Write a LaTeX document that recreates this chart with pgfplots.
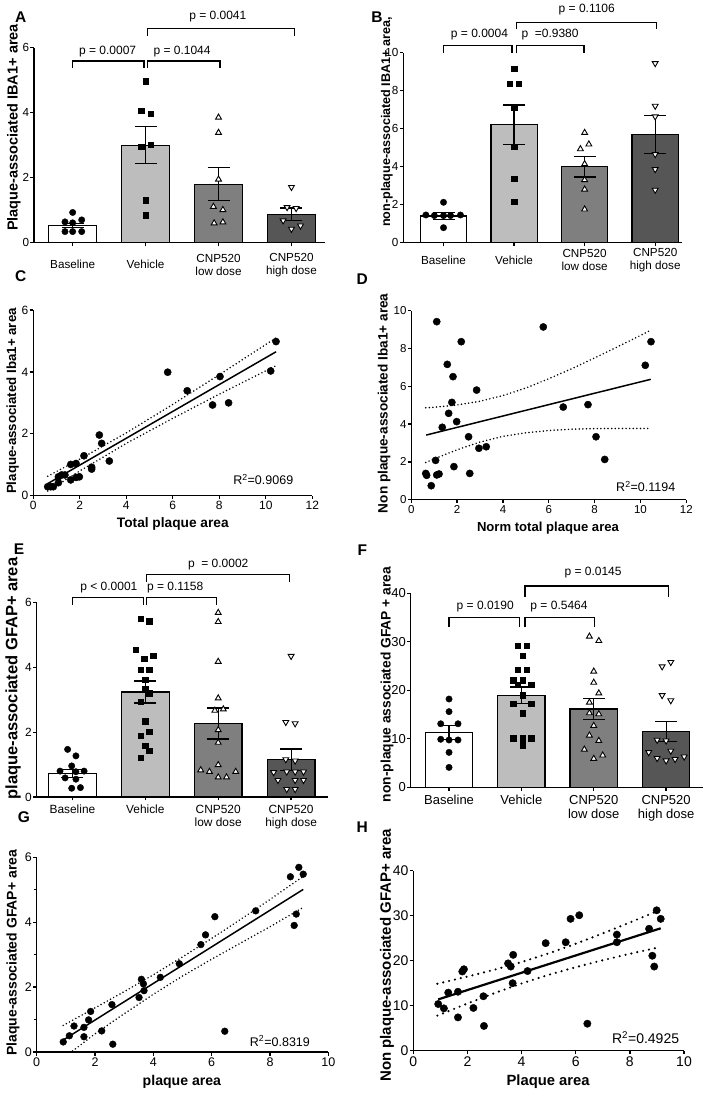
\documentclass[border=0pt]{standalone}
\usepackage{fontspec}
\setmainfont{Liberation Sans}
\usepackage{pgfplots}
\pgfplotsset{compat=1.18}
\definecolor{barV}{HTML}{BDBDBD}
\definecolor{barL}{HTML}{7F7F7F}
\definecolor{barH}{HTML}{565656}
\tikzset{
  brk/.style={line width=1.2pt, black},
  pv/.style={font=\fontsize{12}{14}\selectfont},
  r2/.style={font=\fontsize{12.5}{14}\selectfont},
}
\pgfplotsset{
  prism/.style={
    scale only axis, clip=false, anchor=south west,
    axis lines*=left,
    axis line style={line width=1.3pt, -},
    every tick/.style={line width=1.3pt, black},
    tick align=outside,
    major tick length=3.5pt,
    minor tick length=2.5pt,
    /pgf/number format/assume math mode=true,
    xlabel style={font=\bfseries\fontsize{13.7}{16}\selectfont},
    ylabel style={font=\bfseries\fontsize{13.7}{16}\selectfont},
    tick label style={font=\fontsize{11.7}{13}\selectfont, black},
    yticklabel style={inner sep=1.2pt},
    xticklabel style={inner sep=2pt},
  },
  barchart/.style={prism, xtick={0,1,2,3},
    xticklabels={Baseline,Vehicle,{CNP520\\low dose},{CNP520\\high dose}},
    x tick label style={align=center}, ymin=0},
  barst/.style={ybar, bar width=0.655, bar shift=0pt, draw=black, line width=1.2pt,
    error bars/y dir=both, error bars/y explicit,
    error bars/error bar style={line width=1.2pt, black},
    error bars/error mark options={rotate=90, mark size=11pt, line width=1.2pt, black}},
  circ/.style={only marks, mark=*, mark size=3.2pt, black},
  sq/.style={only marks, mark=square*, mark size=2.7pt, black},
  tri/.style={only marks, mark=triangle*, mark size=3.4pt, mark options={fill=white, draw=black, line width=0.9pt}},
  itri/.style={only marks, mark=triangle*, mark size=3.4pt, mark options={rotate=180, fill=white, draw=black, line width=0.9pt}},
  dots/.style={line width=1.7pt, dash pattern=on 0pt off 3.6pt, line cap=round, black},
  reg/.style={line width=1.5pt, black},
}
\newcommand{\plet}[3]{\node[font=\bfseries\fontsize{15.5}{18}\selectfont] at (#1pt,#2pt) {#3};}
\begin{document}
\begin{tikzpicture}
\path[use as bounding box] (0,0) rectangle (709pt,1095pt);
% ---------------- A ----------------
\begin{axis}[barchart, at={(34pt,852.7pt)}, width=291pt, height=194.6pt,
  xmin=-0.53, xmax=3.46, ymax=6, ytick={0,2,4,6},
  ylabel={Plaque-associated IBA1+ area},
  ylabel style={at={(axis description cs:-0.069,0.59)}, anchor=center, font=\bfseries\fontsize{14.5}{17}\selectfont},
  x tick label style={anchor=center, yshift=-19pt}]
\addplot[fill=white, barst] coordinates {(0,0.52) +- (0,0.07)};
\addplot[fill=barV, barst] coordinates {(1,2.99) +- (0,0.57)};
\addplot[fill=barL, barst] coordinates {(2,1.79) +- (0,0.51)};
\addplot[fill=barH, barst] coordinates {(3,0.86) +- (0,0.20)};
\addplot[circ] coordinates {(0,0.92) (-0.105,0.63) (0,0.60) (0.124,0.69) (-0.105,0.33) (0,0.33) (0.124,0.33)};
\addplot[sq] coordinates {(1,4.97) (0.94,4.05) (1.07,3.97) (0.94,2.95) (1.07,3.0) (1,1.30) (1,0.84)};
\addplot[tri] coordinates {(2,3.85) (2,3.38) (2,1.94) (1.93,1.10) (2.06,1.0) (1.94,0.59) (2.06,0.62)};
\addplot[itri] coordinates {(3,1.70) (2.94,1.08) (3.064,1.05) (2.886,0.67) (3,0.41) (3.124,0.51)};
\draw[brk] (axis cs:0,5.36) |- (axis cs:0.978,5.59) -- (axis cs:0.978,5.36);
\draw[brk] (axis cs:1.023,5.36) |- (axis cs:2.02,5.59) -- (axis cs:2.02,5.36);
\draw[brk] (axis cs:1.023,6.36) |- (axis cs:3.04,6.60) -- (axis cs:3.04,6.36);
\node[pv] at (axis cs:0.48,5.88) {p = 0.0007};
\node[pv] at (axis cs:1.50,5.88) {p = 0.1044};
\node[pv] at (axis cs:1.99,6.96) {p = 0.0041};
\end{axis}
% ---------------- B ----------------
\begin{axis}[barchart, at={(403.3pt,852.7pt)}, width=278.7pt, height=189.6pt,
  xmin=-0.57, xmax=3.38, ymax=10, ytick={0,2,...,10},
  ylabel={non-plaque-associated IBA1+ area,},
  ylabel style={at={(axis description cs:-0.059,0.635)}, anchor=center, font=\bfseries\fontsize{12.6}{15}\selectfont},
  x tick label style={anchor=center, yshift=-14.5pt}]
\addplot[fill=white, barst] coordinates {(0,1.39) +- (0,0.17)};
\addplot[fill=barV, barst] coordinates {(1,6.20) +- (0,1.04)};
\addplot[fill=barL, barst] coordinates {(2,3.99) +- (0,0.55)};
\addplot[fill=barH, barst] coordinates {(3,5.68) +- (0,1.00)};
\addplot[circ] coordinates {(0,2.11) (-0.25,1.44) (-0.13,1.41) (0,1.41) (0.10,1.41) (0.24,1.44) (0,0.77)};
\addplot[sq] coordinates {(1,9.14) (0.94,8.38) (1.066,8.38) (1,7.12) (1,5.03) (1,3.34) (1,2.13)};
\addplot[tri] coordinates {(2,5.78) (1.94,4.92) (2.06,5.17) (2,4.13) (2,3.29) (2,2.79) (2,1.74)};
\addplot[itri] coordinates {(3,9.44) (3,7.19) (3,6.63) (3,4.64) (3,3.85) (3,2.76)};
\draw[brk] (axis cs:0,10.0) |- (axis cs:0.97,10.37) -- (axis cs:0.97,10.0);
\draw[brk] (axis cs:1.03,10.0) |- (axis cs:1.99,10.37) -- (axis cs:1.99,10.0);
\draw[brk] (axis cs:1.03,11.23) |- (axis cs:3.02,11.6) -- (axis cs:3.02,11.23);
\node[pv] at (axis cs:0.51,10.97) {p = 0.0004};
\node[pv] at (axis cs:1.51,10.97) {p \ =0.9380};
\node[pv] at (axis cs:2.03,12.25) {p = 0.1106};
\end{axis}
% ---------------- C ----------------
\begin{axis}[prism, at={(33.3pt,599.3pt)}, width=279pt, height=185.7pt,
  xmin=0, xmax=12, ymin=0, ymax=6, xtick={0,2,...,12}, ytick={0,2,4,6},
  tick label style={font=\fontsize{12}{14}\selectfont},
  xlabel={Total plaque area}, ylabel={Plaque-associated Iba1+ area},
  xlabel style={at={(axis description cs:0.5,-0.152)}, anchor=center},
  ylabel style={at={(axis description cs:-0.074,0.51)}, anchor=center, font=\bfseries\fontsize{13.3}{15}\selectfont}]
\addplot[dots] coordinates {(0.62,0.63) (2,1.18) (4,2.03) (6,2.95) (8,3.91) (10.44,5.10)};
\addplot[dots] coordinates {(0.62,0.15) (2,0.80) (4,1.69) (6,2.50) (8,3.28) (10.44,4.20)};
\addplot[reg] coordinates {(0.62,0.39) (10.44,4.65)};
\addplot[circ, mark size=3.6pt] coordinates {(0.62,0.29) (0.75,0.29) (0.86,0.29) (1.08,0.42) (1.08,0.61) (1.22,0.67) (1.36,0.67) (1.61,1.01) (1.84,1.04) (1.61,0.51) (1.84,0.59) (1.98,0.61) (2.18,1.29) (2.51,0.86) (2.51,0.92) (2.84,1.96) (2.94,1.69) (3.27,1.12) (5.78,3.99) (6.62,3.39) (7.71,2.93) (8.03,3.85) (8.40,3.0) (10.21,4.03) (10.44,4.98)};
\node[r2] at (axis cs:9.89,0.53) {R\textsuperscript{2}=0.9069};
\end{axis}
% ---------------- D ----------------
\begin{axis}[prism, at={(411.3pt,595.3pt)}, width=275pt, height=189pt,
  xmin=0, xmax=12, ymin=0, ymax=10, xtick={0,2,...,12}, ytick={0,2,...,10},
  tick label style={font=\fontsize{11.5}{13}\selectfont},
  xlabel={Norm total plaque area}, ylabel={Non plaque-associated Iba1+ area},
  xlabel style={at={(axis description cs:0.497,-0.15)}, anchor=center, font=\bfseries\fontsize{13.1}{15}\selectfont},
  ylabel style={at={(axis description cs:-0.099,0.51)}, anchor=center, font=\bfseries\fontsize{13.6}{15}\selectfont}]
\addplot[dots] coordinates {(0.63,4.86) (1,4.89) (2,5.01) (3,5.21) (4,5.51) (5,5.91) (6,6.40) (7,6.93) (8,7.50) (9,8.09) (10,8.69) (10.45,8.97)};
\addplot[dots] coordinates {(0.63,1.97) (1,2.16) (2,2.64) (3,3.05) (4,3.35) (5,3.54) (6,3.66) (7,3.73) (8,3.76) (9,3.77) (10,3.77) (10.45,3.77)};
\addplot[reg] coordinates {(0.65,3.42) (10.45,6.37)};
\addplot[circ, mark size=3.6pt] coordinates {(0.63,1.39) (0.67,1.29) (0.87,0.74) (1.06,2.08) (1.11,1.31) (1.21,1.36) (1.11,9.42) (1.35,3.83) (1.57,7.16) (1.63,4.57) (1.82,6.51) (1.77,5.15) (1.86,1.75) (1.98,4.13) (2.18,8.36) (2.50,3.33) (2.55,1.39) (2.85,5.80) (2.95,2.72) (3.27,2.80) (5.76,9.14) (6.63,4.90) (7.71,5.03) (8.06,3.33) (8.44,2.13) (10.21,7.11) (10.46,8.36)};
\node[r2] at (axis cs:10.23,0.69) {R\textsuperscript{2}=0.1194};
\end{axis}
% ---------------- E ----------------
\begin{axis}[barchart, at={(36.7pt,298pt)}, width=291.6pt, height=194.3pt,
  xmin=-0.49, xmax=3.51, ymax=6, ytick={0,2,4,6},
  tick label style={font=\fontsize{11.9}{13.5}\selectfont},
  ylabel={plaque-associated GFAP+ area},
  ylabel style={at={(axis description cs:-0.081,0.61)}, anchor=center, font=\bfseries\fontsize{16.5}{19}\selectfont},
  x tick label style={anchor=north, yshift=-2pt}]
\addplot[fill=white, barst] coordinates {(0,0.73) +- (0,0.12)};
\addplot[fill=barV, barst] coordinates {(1,3.24) +- (0,0.34)};
\addplot[fill=barL, barst] coordinates {(2,2.27) +- (0,0.48)};
\addplot[fill=barH, barst] coordinates {(3,1.15) +- (0,0.33)};
\addplot[circ] coordinates {(-0.066,1.47) (0.048,1.27) (-0.01,0.96) (-0.17,0.80) (0.16,0.80) (0.048,0.78) (-0.10,0.59) (0.048,0.55) (-0.01,0.27) (0.11,0.29)};
\addplot[sq] coordinates {(0.936,5.50) (1.055,5.43) (0.872,4.54) (0.986,4.27) (1.11,4.37) (0.936,3.94) (1.055,3.94) (1,3.63) (1,3.34) (1.055,3.20) (0.936,2.94) (1,2.34) (0.936,1.89) (1.055,2.01) (1,1.58) (1.055,1.43) (0.936,1.22)};
\addplot[tri] coordinates {(2,5.69) (2,5.41) (2,4.18) (2,3.05) (1.954,2.67) (2.07,2.71) (2,2.07) (2,1.68) (2,0.99) (1.76,0.83) (1.88,0.78) (2,0.61) (2.114,0.61) (2.24,0.78)};
\addplot[itri] coordinates {(3,4.35) (2.927,2.31) (3.055,2.27) (2.927,1.16) (3.055,1.12) (2.76,0.76) (2.94,0.78) (3.055,0.78) (3.17,0.78) (2.82,0.52) (3.055,0.52) (3.17,0.52) (2.94,0.24) (3.055,0.24)};
\draw[brk] (axis cs:0,5.93) |- (axis cs:0.97,6.16) -- (axis cs:0.97,5.93);
\draw[brk] (axis cs:1.02,5.93) |- (axis cs:1.98,6.16) -- (axis cs:1.98,5.93);
\draw[brk] (axis cs:1.02,6.65) |- (axis cs:2.98,6.87) -- (axis cs:2.98,6.65);
\node[pv] at (axis cs:0.50,6.46) {p < 0.0001};
\node[pv] at (axis cs:1.41,6.46) {p = 0.1158};
\node[pv] at (axis cs:2.0,7.19) {p \ = 0.0002};
\end{axis}
% ---------------- F ----------------
\begin{axis}[barchart, at={(410.7pt,307.7pt)}, width=292.3pt, height=194pt,
  xmin=-0.53, xmax=3.51, ymax=40, ytick={0,10,...,40},
  tick label style={font=\fontsize{13}{14.5}\selectfont},
  ylabel={non-plaque associated GFAP + area},
  ylabel style={at={(axis description cs:-0.081,0.53)}, anchor=center, font=\bfseries\fontsize{13.8}{16}\selectfont},
  x tick label style={anchor=north, yshift=-2pt}]
\addplot[fill=white, barst] coordinates {(0,11.27) +- (0,1.45)};
\addplot[fill=barV, barst] coordinates {(1,18.97) +- (0,1.70)};
\addplot[fill=barL, barst] coordinates {(2,16.15) +- (0,2.20)};
\addplot[fill=barH, barst] coordinates {(3,11.48) +- (0,2.10)};
\addplot[circ] coordinates {(0,18.2) (0,15.6) (-0.115,13.1) (0.124,13.1) (-0.115,9.9) (0,9.76) (0.124,9.76) (0,7.2) (0,4.1)};
\addplot[sq] coordinates {(0.945,29.2) (1.074,29.2) (1.014,27.1) (0.945,24.3) (1.074,24.3) (0.885,22.1) (1.014,22.1) (1.138,21.1) (0.945,21.1) (1.014,19.0) (0.885,17.2) (1.138,17.2) (1.014,15.3) (0.885,10.1) (1.014,10.1) (1.138,10.1) (1.014,8.7)};
\addplot[tri] coordinates {(1.94,31.1) (2.07,30.2) (2,23.9) (2,21.6) (2.07,19.4) (1.94,17.5) (1.94,15.3) (2.07,15.1) (2,12.7) (1.94,10.7) (2.07,9.6) (1.87,7.8) (2,5.9) (2.124,6.6)};
\addplot[itri] coordinates {(2.945,24.9) (3.065,25.8) (2.945,18.97) (3.065,17.9) (2.876,9.76) (3,9.6) (3.065,7.5) (2.76,7.2) (2.876,6.0) (3,5.5) (3.124,5.8) (3.25,6.3)};
\draw[brk] (axis cs:0,33.0) |- (axis cs:0.977,35.05) -- (axis cs:0.977,33.0);
\draw[brk] (axis cs:1.05,33.0) |- (axis cs:2.01,35.05) -- (axis cs:2.01,33.0);
\draw[brk] (axis cs:1.05,39.3) |- (axis cs:3.03,41.5) -- (axis cs:3.03,39.3);
\node[pv] at (axis cs:0.50,37.25) {p = 0.0190};
\node[pv] at (axis cs:1.52,37.25) {p = 0.5464};
\node[pv] at (axis cs:1.99,44.3) {p = 0.0145};
\end{axis}
% ---------------- G ----------------
\begin{axis}[prism, at={(36.7pt,43pt)}, width=291.6pt, height=194.7pt,
  xmin=0, xmax=10, ymin=0, ymax=6, xtick={0,2,...,10}, ytick={0,2,4,6}, minor y tick num=1,
  tick label style={font=\fontsize{12.5}{14}\selectfont},
  xlabel={plaque area}, ylabel={Plaque-associated GFAP+ area},
  xlabel style={at={(axis description cs:0.498,-0.154)}, anchor=center, font=\bfseries\fontsize{14.1}{16}\selectfont},
  ylabel style={at={(axis description cs:-0.081,0.51)}, anchor=center, font=\bfseries\fontsize{14}{16}\selectfont}]
\addplot[dots] coordinates {(0.91,0.82) (2,1.36) (3,1.86) (4,2.38) (5,2.93) (6,3.50) (7,4.09) (8,4.70) (9.09,5.38)};
\addplot[dots] coordinates {(1.23,0.03) (2,0.56) (3,1.18) (4,1.78) (5,2.34) (6,2.86) (7,3.36) (8,3.86) (9.09,4.43)};
\addplot[reg] coordinates {(0.91,0.37) (9.14,5.01)};
\addplot[circ, mark size=3.4pt] coordinates {(0.91,0.31) (1.12,0.50) (1.28,0.80) (1.62,0.76) (1.62,0.47) (1.78,0.99) (1.85,1.25) (2.23,0.65) (2.58,1.46) (2.61,0.24) (3.51,1.68) (3.59,2.24) (3.66,2.10) (3.68,1.89) (4.24,2.30) (4.89,2.72) (5.63,3.31) (5.79,3.61) (6.11,4.17) (6.45,0.64) (7.51,4.35) (8.70,5.40) (8.83,3.90) (8.90,4.25) (8.99,5.69) (9.14,5.48)};
\node[r2] at (axis cs:8.34,0.34) {R\textsuperscript{2}=0.8319};
\end{axis}
% ---------------- H ----------------
\begin{axis}[prism, at={(413.3pt,44.3pt)}, width=270.7pt, height=180pt,
  xmin=0, xmax=10, ymin=0, ymax=40, xtick={0,2,...,10}, ytick={0,10,...,40},
  tick label style={font=\fontsize{14}{16}\selectfont},
  xlabel={Plaque area}, ylabel={Non plaque-associated GFAP+ area},
  xlabel style={at={(axis description cs:0.498,-0.174)}, anchor=center, font=\bfseries\fontsize{14.8}{17}\selectfont},
  ylabel style={at={(axis description cs:-0.097,0.53)}, anchor=center, font=\bfseries\fontsize{15}{17}\selectfont}]
\addplot[line width=2.4pt, dash pattern=on 0pt off 6pt, line cap=round] coordinates {(0.89,14.88) (2,16.47) (3,18.0) (4,19.70) (5,21.62) (6,23.76) (7,26.07) (8,28.49) (9.01,31.02)};
\addplot[line width=2.4pt, dash pattern=on 0pt off 6pt, line cap=round] coordinates {(0.89,7.80) (2,10.49) (3,12.8) (4,14.94) (5,16.86) (6,18.56) (7,20.10) (8,21.53) (9.01,22.88)};
\addplot[line width=2.2pt, black] coordinates {(0.92,11.4) (9.14,27.2)};
\addplot[circ, mark size=3.7pt] coordinates {(0.92,10.37) (1.13,9.41) (1.29,12.9) (1.65,13.1) (1.65,7.4) (1.81,17.6) (1.87,18.1) (2.22,9.5) (2.59,12.1) (2.61,5.5) (3.50,19.4) (3.60,18.7) (3.69,21.3) (3.67,15.0) (4.22,17.7) (4.89,23.9) (5.63,24.1) (5.81,29.3) (6.13,30.1) (6.43,6.0) (7.52,25.8) (7.52,24.1) (8.71,27.1) (8.83,21.1) (8.90,18.7) (8.99,31.2) (9.14,29.3)};
\node[font=\fontsize{14}{16}\selectfont] at (axis cs:8.58,2.96) {R\textsuperscript{2}=0.4925};
\end{axis}
% panel letters
\plet{20.7}{1078.3}{A}
\plet{377}{1078}{B}
\plet{20.7}{819.3}{C}
\plet{362.3}{815.7}{D}
\plet{19}{546}{E}
\plet{362.3}{545}{F}
\plet{24}{278.3}{G}
\plet{362.3}{268.3}{H}
\end{tikzpicture}
\end{document}
